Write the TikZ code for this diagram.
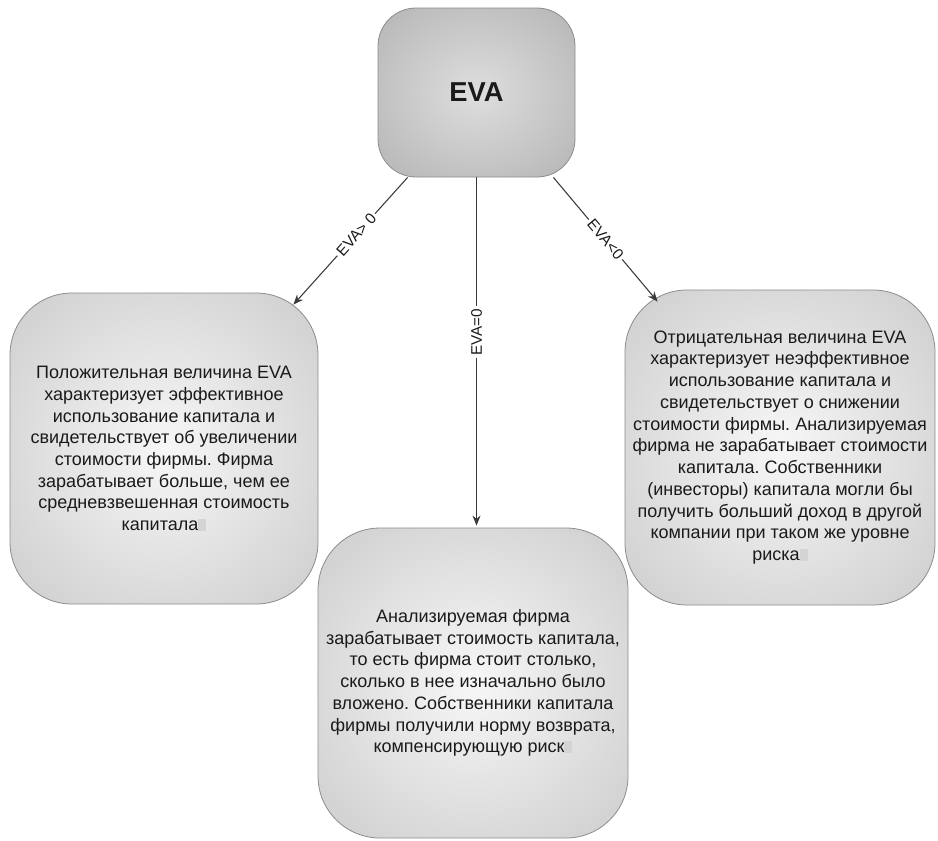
\documentclass[tikz,border=0pt]{standalone}
\usepackage{fontspec}
\setmainfont{Liberation Sans}
\usetikzlibrary{arrows.meta,calc}
\definecolor{evain}{HTML}{DEDEDE}
\definecolor{evaout}{HTML}{A4A4A4}
\definecolor{boxin}{HTML}{F7F7F7}
\definecolor{boxout}{HTML}{BCBCBC}
\definecolor{edgegray}{HTML}{8C8C8C}
\definecolor{arrgray}{HTML}{3A3A3A}
\definecolor{glyphbox}{HTML}{D4D4D4}
\definecolor{txt}{HTML}{1A1A1A}
\pgfdeclareradialshading{evashade}{\pgfpoint{0bp}{0bp}}{color(0bp)=(evain); color(50bp)=(evaout)}
\pgfdeclareradialshading{boxshade}{\pgfpoint{0bp}{0bp}}{color(0bp)=(boxin); color(50bp)=(boxout)}
\newcommand{\gbox}{\textcolor{glyphbox}{\rule{6pt}{9pt}}}
\frenchspacing
\begin{document}
\begin{tikzpicture}[x={(0.75pt,0pt)},y={(0pt,-0.75pt)},
  evabox/.style={draw=edgegray, line width=0.6pt, rounded corners=28.5pt, shading=evashade,
    inner sep=0pt, minimum width=147.75pt, minimum height=126.75pt,
    font=\fontsize{20.5}{24}\selectfont\bfseries, text=txt},
  txtbox/.style={draw=edgegray, line width=0.6pt, rounded corners=46.5pt, shading=boxshade,
    inner sep=0pt, minimum width=232.5pt, align=center,
    font=\fontsize{13.5}{16.3}\selectfont, text=txt},
  arr/.style={draw=arrgray, line width=0.8pt, -{Stealth[length=7.5pt,width=6pt]}},
  lbl/.style={fill=white, inner sep=1.8pt, font=\fontsize{11.5}{13}\selectfont, text=txt}]
\useasboundingbox (0,0) rectangle (938,840);

\node[evabox] (eva) at (476.5,92.5) {EVA};

\node[txtbox, minimum width=231pt, minimum height=233.25pt] (pos) at (164,448.5)
  {Положительная величина EVA\\характеризует эффективное\\использование капитала и\\свидетельствует об увеличении\\стоимости фирмы. Фирма\\зарабатывает больше, чем ее\\средневзвешенная стоимость\\капитала\gbox};

\node[txtbox, minimum height=236.25pt] (neg) at (780,447.5)
  {Отрицательная величина EVA\\характеризует неэффективное\\использование капитала и\\свидетельствует о снижении\\стоимости фирмы. Анализируемая\\фирма не зарабатывает стоимости\\капитала. Собственники\\(инвесторы) капитала могли бы\\получить больший доход в другой\\компании при таком же уровне\\риска\gbox};

\node[txtbox, minimum height=232.5pt] (zero) at (473,683)
  {Анализируемая фирма\\зарабатывает стоимость капитала,\\то есть фирма стоит столько,\\сколько в нее изначально было\\вложено. Собственники капитала\\фирмы получили норму возврата,\\компенсирующую риск\gbox};

\draw[arr] ($(eva.south west)+(30,0)$) -- node[lbl, sloped, pos=0.45] {EVA> 0} ($(pos.north east)+(-25,12)$);
\draw[arr] (eva.south) -- node[lbl, rotate=90, pos=0.445] {EVA=0} ($(eva.south |- zero.north)+(0,-2)$);
\draw[arr] ($(eva.south east)+(-22,0)$) -- node[lbl, sloped, pos=0.5] {EVA<0} ($(neg.north west)+(33,12)$);
\end{tikzpicture}
\end{document}
